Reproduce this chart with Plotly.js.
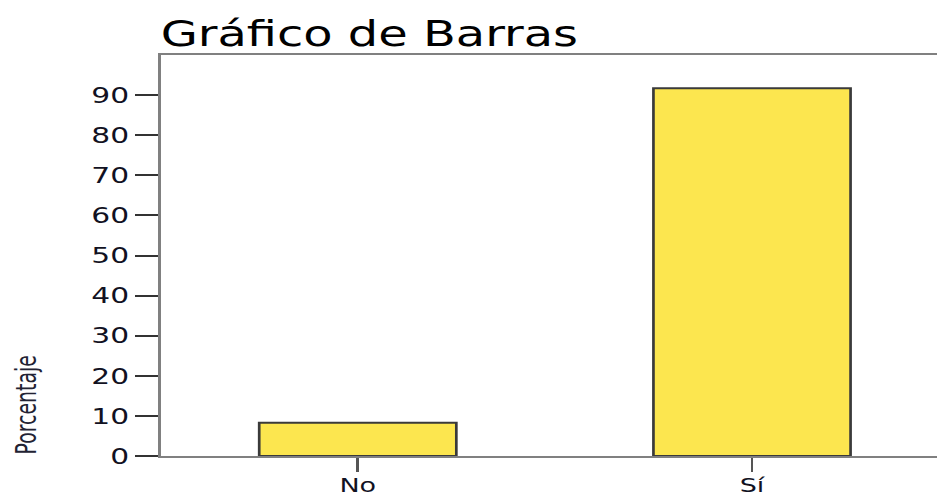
<!DOCTYPE html>
<html><head><meta charset="utf-8">
<script src="https://cdn.plot.ly/plotly-3.0.1.min.js"></script>
<style>
html,body{margin:0;padding:0;background:#fff;overflow:hidden;}
#wrap{width:937px;height:498px;overflow:hidden;}
#chart{width:694px;height:498px;transform:scaleX(1.35);transform-origin:0 0;}
</style>
</head><body><div id="wrap"><div id="chart"></div></div>
<script>
const categories = ["No", "Sí"];
const percentages = [8.3, 91.7];
const yTickValues = [0, 10, 20, 30, 40, 50, 60, 70, 80, 90];

const trace = {
  type: 'bar',
  x: categories,
  y: percentages,
  width: 0.5,
  marker: {color: '#fce64f', line: {color: '#3a3a3a', width: 2}},
  hoverinfo: 'skip'
};

const layout = {
  width: 694, height: 498,
  margin: {l: 118.5, r: 0, t: 55, b: 42, pad: 0},
  paper_bgcolor: '#ffffff', plot_bgcolor: '#ffffff',
  showlegend: false,
  title: {text: 'Gráfico de Barras', font: {family: 'DejaVu Sans', size: 35.5, color: '#000000'},
          x: 0, xref: 'paper', xanchor: 'left', y: 0.958, yref: 'container', yanchor: 'top', pad: {l: 0}},
  xaxis: {
    type: 'category', range: [-0.5, 1.469], fixedrange: true,
    showline: true, linecolor: '#808080', linewidth: 2, mirror: true,
    ticks: 'outside', ticklen: 14, tickwidth: 2, tickcolor: '#555555',
    ticklabelstandoff: -4,
    tickfont: {family: 'DejaVu Sans', size: 20, color: '#111122'},
    showgrid: false, zeroline: false
  },
  yaxis: {
    range: [0, 100], fixedrange: true,
    tickvals: yTickValues, ticktext: yTickValues.map(String),
    showline: true, linecolor: '#808080', linewidth: 2,
    ticks: 'outside', ticklen: 17, tickwidth: 2, tickcolor: '#333333',
    tickfont: {family: 'DejaVu Sans', size: 22, color: '#111122'},
    showgrid: false, zeroline: false
  },
  annotations: [{
    text: 'Porcentaje', textangle: -90, showarrow: false,
    xref: 'paper', yref: 'y', x: -0.174, y: 0, xanchor: 'center', yanchor: 'bottom',
    font: {family: 'Liberation Sans Narrow, DejaVu Sans Condensed, sans-serif', size: 21, color: '#222233'}
  }]
};

Plotly.newPlot('chart', [trace], layout, {displayModeBar: false, staticPlot: true});
</script></body></html>
